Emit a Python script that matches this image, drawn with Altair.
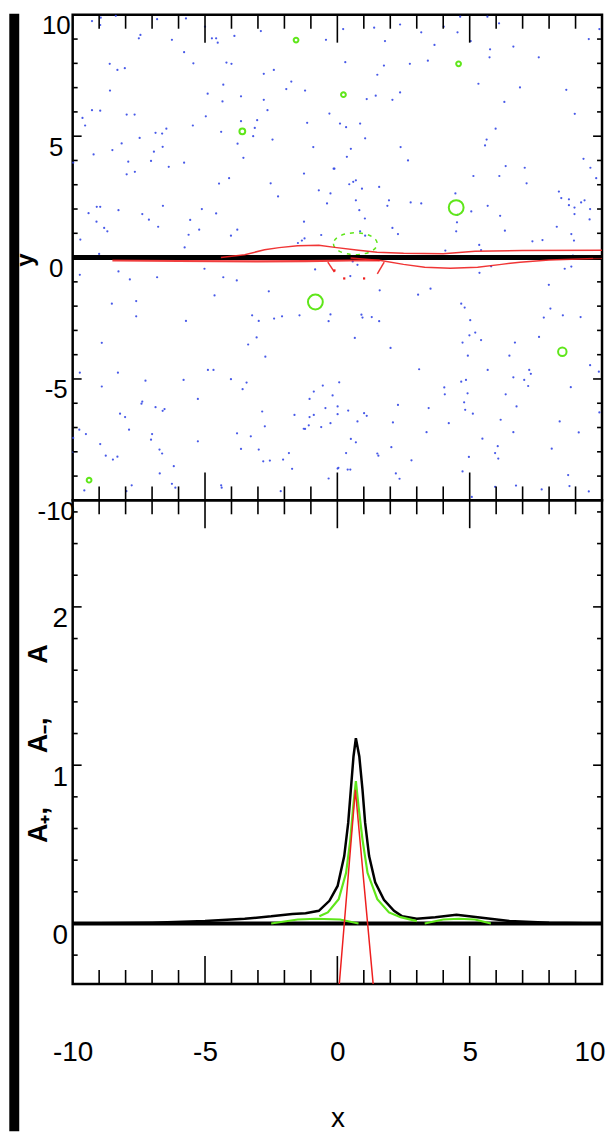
import altair as alt
import pandas as pd

# ---------------- axes / ticks ----------------
X_DOMAIN = [-10, 10]
Y_DOMAIN = [-10, 10]
A_DOMAIN = [-0.382, 2.673]

X_LABELS = [-10, -5, 0, 5, 10]
Y_LABELS = [-10, -5, 0, 5, 10]
A_LABELS = [0, 1, 2]
MAJOR_XY = [-5, 0, 5]
MINOR_XY = [-9, -8, -7, -6, -4, -3, -2, -1, 1, 2, 3, 4, 6, 7, 8, 9]
MAJOR_A = [0, 1, 2]
MINOR_A = [-0.2, 0.2, 0.4, 0.6, 0.8, 1.2, 1.4, 1.6, 1.8, 2.2, 2.4, 2.6]

# ---------------- top panel: blue particles (x, y) ----------------
blue_nw = [(-9.27,9.74),(-8.94,9.88),(-8.96,9.58),(-8.37,9.96),(-6.81,9.82),(-5.72,9.85),(-5.00,9.51),(-4.74,9.03),
 (-4.58,9.03),(-4.52,8.85),(-3.89,9.13),(-2.89,9.33),(-7.50,9.03),(-7.44,9.17),(-6.25,8.97),(-5.79,8.46),(-5.44,8.00),
 (-4.19,8.03),(-4.00,7.98),(-8.60,7.98),(-8.31,7.73),(-8.03,7.80),(-2.78,7.57),(-2.40,7.73),(-1.74,7.25),(-1.93,6.94),
 (-1.22,6.88),(-0.43,8.97),(-8.59,6.88),(-4.31,7.12),(-4.90,6.75),(-4.34,6.43),(-3.64,6.64),(-2.78,6.50),(-2.64,6.07),
 (-9.27,6.07),(-8.96,6.05),(-9.63,5.75),(-9.53,5.44),(-7.96,5.89),(-7.66,5.89),(-4.97,5.82),(-3.64,5.62),(-3.03,5.66),
 (-5.46,5.44),(-6.87,5.14),(-6.62,5.11),(-6.46,5.31),(-7.47,4.93),(-4.39,5.18),(-3.12,5.34),(-3.18,5.00),(-2.45,4.86),
 (-3.77,4.69),(-3.55,4.11),(-0.91,4.55),(-1.14,5.55),(-0.30,5.93),(-8.15,4.70),(-8.50,4.43),(-9.21,4.25),(-6.93,4.36),
 (-6.60,4.56),(-7.90,3.95),(-7.65,3.53),(-7.96,3.43),(-7.04,3.98),(-6.37,3.74),(-5.79,3.91),(-4.47,3.05),(-4.09,3.27),
 (-2.52,3.06),(-2.24,2.52),(-1.26,3.46),(-0.70,2.77),(-0.26,2.64),(-0.14,3.66),(-0.39,2.23),(-9.40,1.83),(-9.09,2.09),
 (-8.96,2.09),(-9.10,1.48),(-8.27,1.95),(-7.37,1.79),(-7.12,1.56),(-6.59,2.13),(-5.56,1.55),(-5.12,2.00),(-4.58,1.82),
 (-8.81,1.22),(-8.69,1.08),(-6.77,1.27),(-5.62,0.94),(-5.22,1.15),(-4.02,0.90),(-3.78,1.15),(-1.26,1.48),(-0.61,0.93),
 (-1.49,0.60),(-1.34,0.70),(-1.24,0.79),(-9.71,0.74),(-9.00,0.15),(-5.77,0.42),(-9.98,3.91)]

blue_ne = [(0.22,9.41),(1.39,9.47),(2.37,9.60),(1.80,8.92),(3.17,9.28),(3.67,8.76),(4.02,9.51),(4.54,9.28),(4.64,9.92),
 (5.04,8.92),(5.67,9.92),(6.11,9.65),(5.77,8.58),(5.75,8.25),(6.65,8.69),(7.61,8.25),(9.50,9.00),(9.90,9.41),(0.30,8.05),
 (1.76,7.91),(1.51,7.53),(2.74,7.98),(3.42,8.11),(1.11,6.53),(1.45,6.67),(2.08,6.50),(2.37,6.80),(5.33,7.16),(6.31,6.41),
 (6.90,7.01),(8.65,6.91),(8.97,5.92),(0.10,5.52),(0.33,5.37),(0.86,5.52),(1.05,4.91),(5.98,5.31),(5.64,4.86),(5.58,4.62),
 (2.39,4.55),(0.51,4.48),(0.36,4.15),(2.67,4.00),(-0.11,3.66),(0.45,3.02),(0.60,3.12),(0.70,3.18),(0.93,2.84),(1.58,2.91),
 (0.70,2.36),(0.83,1.95),(1.89,2.13),(1.95,2.36),(2.77,2.27),(3.17,2.23),(4.46,2.64),(5.06,1.90),(5.68,2.13),(6.15,1.72),
 (5.14,3.36),(6.12,3.36),(6.36,3.77),(7.08,3.70),(7.15,3.06),(8.37,2.72),(8.46,2.45),(8.75,2.40),(8.75,2.16),(8.96,2.06),
 (9.21,2.27),(9.34,2.36),(9.55,2.00),(9.53,1.57),(8.96,1.79),(9.30,4.07),(9.56,3.70),(9.78,3.27),(1.04,1.61),(0.86,1.08),
 (1.05,0.90),(2.08,1.22),(2.29,0.97),(4.49,1.08),(4.52,1.45),(4.54,1.76),(6.33,1.11),(7.37,0.67),(7.75,0.72),(8.29,1.27),
 (8.84,0.97),(8.94,0.70),(5.36,0.52),(5.43,0.31),(4.08,0.29),(8.90,0.08)]

blue_sw = [(-9.73,-0.71),(-8.27,-0.57),(-7.84,-0.90),(-6.81,-0.81),(-5.02,-0.46),(-4.31,-0.81),(-3.80,-0.94),(-0.84,-0.49),
 (-8.52,-1.90),(-7.60,-1.79),(-7.60,-2.42),(-4.64,-1.56),(-2.59,-1.39),(-5.72,-2.61),(-3.22,-2.38),(-2.97,-2.61),
 (-2.39,-2.51),(-2.09,-2.42),(-1.43,-2.38),(-0.26,-2.34),(-0.33,-2.62),(-8.90,-3.51),(-3.37,-3.58),(-3.05,-3.29),
 (-2.72,-4.08),(-9.73,-4.74),(-8.29,-4.74),(-4.89,-4.63),(-4.68,-4.63),(-8.90,-5.31),(-7.25,-5.07),(-5.81,-5.04),
 (-4.02,-5.01),(-3.58,-5.42),(-3.43,-5.15),(-5.27,-5.82),(-7.37,-5.93),(-7.40,-6.02),(-6.87,-6.16),(-6.60,-6.31),
 (-6.53,-6.24),(-8.21,-6.43),(-8.02,-6.57),(-2.84,-6.34),(-2.74,-6.95),(-1.62,-6.48),(-1.05,-6.57),(-0.89,-6.48),
 (-0.55,-5.27),(-0.89,-5.52),(-1.05,-5.82),(-0.45,-6.20),(-0.18,-5.68),(0.01,-6.45),(-0.26,-6.82),(-0.61,-6.98),
 (-1.08,-6.91),(-1.27,-7.05),(-1.22,-7.06),(-9.75,-7.09),(-9.50,-7.27),(-7.87,-7.09),(-7.00,-7.27),(-7.04,-7.50),
 (-5.27,-7.57),(-3.79,-7.24),(-3.27,-7.36),(-8.96,-7.68),(-8.75,-8.16),(-8.48,-8.32),(-8.31,-8.20),(-6.72,-7.91),
 (-6.62,-8.07),(-6.18,-8.59),(-3.64,-7.88),(-2.97,-7.91),(-2.80,-8.39),(-2.55,-8.36),(-2.05,-8.32),(-1.83,-8.05),
 (-1.71,-8.70),(-6.71,-8.89),(-7.77,-9.38),(-7.97,-9.62),(-6.25,-9.32),(-6.12,-9.48),(-4.39,-9.38),(-4.37,-9.48),
 (-2.14,-9.62),(-0.33,-9.10),(0.01,-8.69),(-9.56,-9.59),(-9.98,-7.43),(-9.98,-8.01)]

blue_se = [(0.76,-0.30),(0.49,-0.76),(0.58,-0.16),(5.37,-0.63),(5.81,-0.36),(8.59,-0.46),(8.84,-0.37),(1.60,-1.35),
 (3.05,-1.53),(3.52,-1.28),(7.99,-1.12),(0.91,-2.35),(0.95,-2.47),(1.30,-2.45),(1.58,-2.62),(4.68,-1.90),(4.81,-2.06),
 (5.02,-2.58),(4.99,-3.20),(5.21,-3.09),(5.43,-3.40),(4.73,-3.50),(6.71,-3.50),(6.50,-4.04),(4.93,-4.04),(8.05,-2.10),
 (7.80,-2.47),(8.52,-2.38),(9.19,-2.45),(7.62,-3.27),(0.66,-3.31),(2.01,-3.72),(3.09,-4.60),(5.68,-4.63),(6.65,-4.93),
 (7.25,-4.63),(7.31,-4.79),(7.06,-5.04),(7.21,-5.29),(9.55,-4.43),(9.88,-4.70),(0.07,-5.14),(4.68,-5.11),(4.86,-5.04),
 (4.04,-5.35),(4.06,-5.63),(4.92,-5.59),(4.79,-5.96),(4.83,-6.27),(5.12,-6.43),(6.36,-5.63),(6.77,-6.13),(8.82,-5.34),
 (0.01,-6.13),(0.41,-6.30),(1.01,-6.41),(1.11,-6.52),(2.29,-6.07),(3.45,-6.20),(0.76,-6.75),(2.10,-6.79),(4.21,-6.82),
 (6.17,-6.68),(8.40,-6.75),(9.90,-6.38),(9.12,-7.20),(3.37,-7.19),(5.48,-7.46),(6.65,-7.19),(0.51,-7.47),(0.70,-7.61),
 (0.33,-8.05),(1.51,-8.07),(1.55,-8.16),(2.04,-7.81),(2.80,-8.35),(6.06,-7.77),(5.96,-8.05),(6.08,-8.28),(4.97,-8.21),
 (8.10,-7.87),(0.04,-8.66),(0.39,-8.73),(0.49,-8.73),(2.21,-8.89),(2.35,-9.11),(4.73,-8.81),(5.96,-9.44),(6.75,-9.39),
 (7.72,-9.55),(8.72,-8.96),(8.77,-9.41),(9.50,-9.63),(5.08,-9.86)]

# ---------------- top panel: green rings ----------------
green_x = [-1.56, 4.58, 0.23, -3.59, 4.49, -0.83, 8.50, -9.38]
green_y = [8.96, 7.98, 6.71, 5.20, 2.06, -1.83, -3.88, -9.17]
green_r = [0.09, 0.09, 0.09, 0.11, 0.28, 0.28, 0.16, 0.09]
loop_x = [0.68]
loop_y = [0.57]

# ---------------- top panel: string and red strands ----------------
string_x = [-10, 10]
string_y = [0, 0]
red_upper_x = [-4.4, -3.5, -2.75, -2.2, -1.5, -0.7, -0.1, 0.8, 1.5, 2.5, 4.0, 5.2, 7.0, 10.0]
red_upper_y = [0.0, 0.12, 0.32, 0.41, 0.49, 0.51, 0.42, 0.30, 0.22, 0.18, 0.16, 0.26, 0.29, 0.30]
red_lower_x = [0.5, 1.64, 2.5, 3.3, 4.27, 5.3, 6.2, 6.9, 8.0, 10.0]
red_lower_y = [-0.02, -0.12, -0.28, -0.40, -0.44, -0.40, -0.28, -0.19, -0.10, -0.03]
red_band_x = [-8.5, -6.0, -3.0, -1.2, 0.5, 1.6]
red_band_y = [-0.12, -0.14, -0.16, -0.15, -0.12, -0.12]
red_kink1_x = [-0.36, -0.11]
red_kink1_y = [-0.19, -0.60]
red_kink2_x = [1.77, 1.51]
red_kink2_y = [-0.19, -0.67]
red_dot_x = [0.26, 1.01, -0.11]
red_dot_y = [-0.86, -0.86, -0.53]

# ---------------- bottom panel: amplitudes ----------------
base_x = [-10, 10]
base_a = [0, 0]
amp_x = [-10, -7, -5, -3.5, -2.5, -1.7, -1.2, -0.7, -0.3, 0.01, 0.26, 0.41, 0.51, 0.61, 0.70,
         0.83, 0.95, 1.05, 1.20, 1.43, 1.76, 2.14, 2.45, 3.0, 3.7, 4.5, 5.3, 6.5, 8, 10]
amp_a = [0.0, 0.005, 0.015, 0.03, 0.045, 0.06, 0.065, 0.08, 0.143, 0.237, 0.426, 0.635, 0.845, 1.055, 1.17,
         1.055, 0.845, 0.635, 0.426, 0.26, 0.15, 0.08, 0.045, 0.03, 0.04, 0.055, 0.04, 0.015, 0.005, 0.0]
ampg_x = [-0.68, -0.36, 0.05, 0.33, 0.49, 0.60, 0.70, 0.80, 0.95, 1.14, 1.51, 1.95, 2.39, 3.0]
ampg_a = [0.045, 0.07, 0.153, 0.32, 0.53, 0.74, 0.90, 0.74, 0.53, 0.32, 0.153, 0.07, 0.04, 0.015]
bumpg1_x = [-2.5, -1.5, -0.8, 0.1, 0.8]
bumpg1_a = [0.0, 0.025, 0.03, 0.025, 0.0]
bumpg2_x = [3.3, 4.0, 4.6, 5.2, 5.8]
bumpg2_a = [0.0, 0.025, 0.03, 0.025, 0.0]
ampr_x = [0.04, 0.68, 1.39]
ampr_a = [-0.45, 0.845, -0.45]

# ---------------- styling ----------------
NARROW = "Liberation Sans Narrow, Liberation Sans, Arial, sans-serif"
BOLD = "Liberation Sans, Arial, sans-serif"
BLUE = "#3347e6"
GREEN = "#5fe61a"
RED = "#ee1f1f"

XS = alt.Scale(domain=X_DOMAIN, nice=False, zero=False)
YS = alt.Scale(domain=Y_DOMAIN, nice=False, zero=False)
AS = alt.Scale(domain=A_DOMAIN, nice=False, zero=False)


def pts(pairs):
    return pd.DataFrame(pairs, columns=["x", "y"])


def lines(named):
    rows = []
    for name, xs, ys in named:
        for a, b in zip(xs, ys):
            rows.append({"series": name, "x": a, "y": b})
    return pd.DataFrame(rows)


def X(top_panel, **kw):
    if top_panel:
        return alt.X("x:Q", scale=XS, axis=None, **kw)
    return alt.X("x:Q", scale=XS, **kw)


def Y(scale):
    return alt.Y("y:Q", scale=scale)


def edge_ticks(vals, edge, length, ydom, yscale, top_panel):
    if edge in ("top", "bottom"):
        yv = ydom[1] if edge == "top" else ydom[0]
        df = pd.DataFrame({"x": vals, "y": [yv] * len(vals)})
        off = length / 2 if edge == "top" else -length / 2
        mk = alt.Chart(df).mark_tick(orient="vertical", size=length, thickness=1.6, color="black",
                                     opacity=1, yOffset=off)
    else:
        xv = X_DOMAIN[0] if edge == "left" else X_DOMAIN[1]
        df = pd.DataFrame({"x": [xv] * len(vals), "y": vals})
        off = length / 2 if edge == "left" else -length / 2
        mk = alt.Chart(df).mark_tick(orient="horizontal", size=length, thickness=1.6, color="black",
                                     opacity=1, xOffset=off)
    return mk.encode(x=X(top_panel), y=Y(yscale))


def frame_ticks(ydom, yscale, yminor, ymajor, top_panel):
    out = []
    for edge in ("top", "bottom"):
        out.append(edge_ticks(MINOR_XY, edge, 14, ydom, yscale, top_panel))
        out.append(edge_ticks(MAJOR_XY, edge, 28, ydom, yscale, top_panel))
    for edge in ("left", "right"):
        out.append(edge_ticks(yminor, edge, 5, ydom, yscale, top_panel))
        out.append(edge_ticks(ymajor, edge, 9, ydom, yscale, top_panel))
    return out


# ---------------- top panel ----------------
blue_df = pd.concat([pts(blue_nw), pts(blue_ne), pts(blue_sw), pts(blue_se)], ignore_index=True)

y_axis_top = alt.Axis(values=Y_LABELS, labelExpr="'' + datum.value", ticks=False, tickSize=0, domain=False,
                      grid=False, labelFont=NARROW, labelFontSize=26, labelAlign="center",
                      labelBaseline="middle", labelPadding=17, labelOffset=11, labelFlush=False,
                      title="y", titleFont=BOLD, titleFontSize=24, titleFontWeight="bold",
                      titleAngle=270, titleX=-47, titleY=246, titleAlign="center", titleBaseline="middle")

strip = alt.Chart(pd.DataFrame({"x": [0]})).mark_rect(color="black").encode(
    x=alt.value(-63.7), x2=alt.value(-53.7), y=alt.value(-1), y2=alt.value(1122))

blue = alt.Chart(blue_df).mark_circle(size=5, color=BLUE, opacity=0.9).encode(
    x=X(True), y=alt.Y("y:Q", scale=YS, axis=y_axis_top))

green = alt.Chart(pd.DataFrame({"x": green_x, "y": green_y, "r": green_r})).mark_point(
    filled=False, color=GREEN, strokeWidth=2, opacity=1).encode(
    x=X(True), y=Y(YS),
    size=alt.Size("r:Q", scale=alt.Scale(type="pow", exponent=2, domain=[0, 0.8], range=[0, 1815]),
                  legend=None))

loop = alt.Chart(pd.DataFrame({"x": loop_x, "y": loop_y})).mark_point(
    shape="M-1,0A1,0.5,0,1,0,1,0A1,0.5,0,1,0,-1,0Z", size=1936, filled=False, color=GREEN,
    strokeWidth=1.5, strokeDash=[4, 5], opacity=1).encode(x=X(True), y=Y(YS))

string = alt.Chart(lines([("s", string_x, string_y)])).mark_line(
    color="black", strokeWidth=5, clip=True).encode(x=X(True), y=Y(YS), detail="series:N")

red_strands = alt.Chart(lines([
    ("up", red_upper_x, red_upper_y), ("low", red_lower_x, red_lower_y),
    ("k1", red_kink1_x, red_kink1_y), ("k2", red_kink2_x, red_kink2_y)])).mark_line(
    color=RED, strokeWidth=1.5, opacity=0.9, clip=True).encode(x=X(True), y=Y(YS), detail="series:N")

red_band = alt.Chart(lines([("band", red_band_x, red_band_y)])).mark_line(
    color=RED, strokeWidth=2.2, opacity=0.85, clip=True).encode(x=X(True), y=Y(YS), detail="series:N")

red_dots = alt.Chart(pd.DataFrame({"x": red_dot_x, "y": red_dot_y})).mark_square(
    size=5, color=RED, opacity=1).encode(x=X(True), y=Y(YS))

top = alt.layer(
    strip, blue, green, loop, string, red_band, red_strands, red_dots,
    *frame_ticks(Y_DOMAIN, YS, MINOR_XY, MAJOR_XY, True)
).properties(width=532, height=488)

# ---------------- bottom panel ----------------
x_axis_bottom = alt.Axis(values=X_LABELS, labelExpr="'' + datum.value", ticks=False, tickSize=0,
                         domain=False, grid=False, labelFont=NARROW, labelFontSize=28,
                         labelAlign={"condition": {"test": "datum.value == 10", "value": "right"},
                                     "value": "center"},
                         labelOffset={"condition": {"test": "datum.value == 10", "value": 3}, "value": 0},
                         labelBaseline="middle", labelPadding=69, labelFlush=False,
                         title="x", titleFont=NARROW, titleFontSize=28, titleFontWeight="normal",
                         titleY=143, titleBaseline="alphabetic")

a_axis = alt.Axis(values=A_LABELS, labelExpr="'' + datum.value", ticks=False, tickSize=0, domain=False,
                  grid=False, labelFont=NARROW, labelFontSize=28, labelAlign="center",
                  labelBaseline="middle", labelPadding=13, labelOffset=12, labelFlush=False,
                  title="A\u208a,\u2003\u2003A\u208b,\u2003\u2003A", titleFont=BOLD, titleFontSize=27,
                  titleFontWeight="bold", titleAngle=270, titleX=-34.7, titleY=244,
                  titleAlign="center", titleBaseline="middle")

baseline = alt.Chart(lines([("b", base_x, base_a)])).mark_line(
    color="black", strokeWidth=4, clip=True).encode(
    x=alt.X("x:Q", scale=XS, axis=x_axis_bottom),
    y=alt.Y("y:Q", scale=AS, axis=a_axis),
    detail="series:N")

amp_black = alt.Chart(lines([("A", amp_x, amp_a)])).mark_line(
    color="black", strokeWidth=2.5, clip=True).encode(x=X(False), y=Y(AS), detail="series:N")

amp_green = alt.Chart(lines([("g", ampg_x, ampg_a), ("g1", bumpg1_x, bumpg1_a),
                             ("g2", bumpg2_x, bumpg2_a)])).mark_line(
    color=GREEN, strokeWidth=2.2, clip=True).encode(x=X(False), y=Y(AS), detail="series:N")

amp_red = alt.Chart(lines([("r", ampr_x, ampr_a)])).mark_line(
    color=RED, strokeWidth=1.5, clip=True).encode(x=X(False), y=Y(AS), detail="series:N")

bottom = alt.layer(
    baseline, amp_black, amp_green, amp_red,
    *frame_ticks(A_DOMAIN, AS, MINOR_A, MAJOR_A, False)
).properties(width=532, height=486)

chart = alt.vconcat(top, bottom, spacing=0, bounds="flush").properties(
    padding=0, background="white"
).configure_view(stroke="black", strokeWidth=2.5).configure_axis(
    labelColor="black", titleColor="black")

chart.save("out.html", embed_options={"renderer": "svg", "actions": False})
